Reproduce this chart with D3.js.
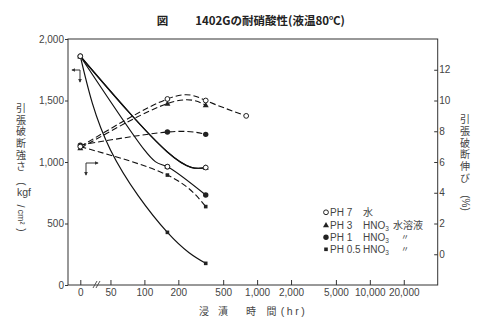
<!DOCTYPE html>
<html><head><meta charset="utf-8">
<script src="https://cdn.jsdelivr.net/npm/d3@7"></script>
<style>
body{margin:0;background:#fff}
svg{display:block}
text{font-family:"Liberation Sans",Arial,sans-serif;fill:#444}
.cjk{font-family:"Noto Sans CJK JP","Noto Sans CJK SC",sans-serif}
</style></head><body>
<svg id="c" width="500" height="334"></svg>
<script>
// ---- data ----
// measured points (markers)
const hours = [0, 160, 350];
const hoursPH7Elong = [0, 160, 350, 800];
const ph7Strength = [1860, 962, 955];
const ph3Strength = [1860, 962, 955];
const ph1Strength = [1860, 962, 732];
const ph05Strength = [1860, 428, 176];
const ph7Elong = [7.0, 10.1, 10.0, 9.0];
const ph3Elong = [6.9, 9.8, 9.7];
const ph1Elong = [7.1, 7.95, 7.8];
const ph05Elong = [7.0, 5.15, 3.1];
// strength curves as drawn in the figure
const ph7StrengthCurveH = [0, 160, 350];
const ph7StrengthCurve = [1860, 1081, 955];
const ph1StrengthCurveH = [0, 100, 160, 350];
const ph1StrengthCurve = [1860, 1098, 962, 732];
const ph05StrengthCurveH = [0, 50, 160, 350];
const ph05StrengthCurve = [1860, 1098, 428, 176];

const xTicks = [0, 50, 100, 200, 500, 1000, 2000, 5000, 10000, 20000];
const xTickLabels = ["0","50","100","200","500","1,000","2,000","5,000","10,000","20,000"];
const leftTicks = [0, 500, 1000, 1500, 2000];
const rightTicks = [0, 2, 4, 6, 8, 10, 12];
const legendLabels = [["PH 7","水",""],["PH 3","HNO","水溶液"],["PH 1","HNO","〃"],["PH 0.5","HNO","〃"]];

const svg = d3.select("#c");
const L = 68, R = 437.7, T = 39, B = 285;
const ZERO_AT = 27; // where the broken-axis "0" sits on the log scale
const xLog = d3.scaleLog().domain([21, 40000]).range([L, R]);
const x = h => xLog(h === 0 ? ZERO_AT : h);
const yL = d3.scaleLinear().domain([0, 2000]).range([B, T]);
const yR = d3.scaleLinear().domain([-2, 14]).range([B, T]);

// title
svg.append("text").attr("class","cjk").attr("x",162.5).attr("y",24.5).attr("text-anchor","middle")
  .style("font-size","11.5px").style("font-weight","bold").style("fill","#222").text("図");
svg.append("text").attr("class","cjk").attr("x",270).attr("y",24.5).attr("text-anchor","middle")
  .style("font-size","11.5px").style("font-weight","bold").style("fill","#222").text("1402Gの耐硝酸性(液温80℃)");

// frame
svg.append("rect").attr("x",L).attr("y",T).attr("width",R-L).attr("height",B-T)
  .attr("fill","none").attr("stroke","#333").attr("stroke-width",1);

// axes
const gx = svg.append("g").attr("transform",`translate(0,${B})`)
  .call(d3.axisBottom(xLog).tickValues(xTicks.map(h => h === 0 ? ZERO_AT : h))
    .tickFormat((d,i) => xTickLabels[i]).tickSizeInner(-5).tickSizeOuter(0).tickPadding(4));
gx.select(".domain").remove();
const gl = svg.append("g").attr("transform",`translate(${L},0)`)
  .call(d3.axisLeft(yL).tickValues(leftTicks).tickFormat(d3.format(",")).tickSizeInner(3).tickSizeOuter(0).tickPadding(1));
gl.select(".domain").remove();
const gr = svg.append("g").attr("transform",`translate(${R},0)`)
  .call(d3.axisRight(yR).tickValues(rightTicks).tickSizeInner(-3.5).tickSizeOuter(0).tickPadding(1.5));
gr.select(".domain").remove();
svg.selectAll(".tick line").attr("stroke","#333");
svg.selectAll(".tick text").style("font-size","10px").style("fill","#444");

// axis break mark
[[93,97],[96,100]].forEach(([a,b]) => svg.append("line").attr("x1",a).attr("y1",288).attr("x2",b).attr("y2",281)
  .attr("stroke","#444").attr("stroke-width",0.9));

// axis titles
const xt = ["浸","漬","時","間"], xtPos = [204,223,251,271.5];
xt.forEach((c,i) => svg.append("text").attr("class","cjk").attr("x",xtPos[i]).attr("y",315).attr("text-anchor","middle").style("font-size","10px").text(c));
svg.append("text").attr("x",294).attr("y",315).attr("text-anchor","middle").style("font-size","10.5px").style("letter-spacing","2.5px").text("(hr)");

function vert(t, cx, top, size, gap){
  svg.append("text").attr("class","cjk").attr("x",cx).attr("y",top)
    .attr("writing-mode","tb").style("writing-mode","vertical-rl")
    .style("font-size",size+"px").style("letter-spacing",gap+"px").text(t);
}
function rot(t, cx, cy, size){ svg.append("text").attr("transform",`translate(${cx},${cy}) rotate(90)`).attr("text-anchor","middle").attr("dy","0.35em").style("font-size",size+"px").text(t); }

vert("引張破断強さ", 21, 103.5, 10, 1.6);
rot("(",21,184,10);
svg.append("text").attr("x",24).attr("y",196).attr("text-anchor","middle").style("font-size","10.5px").text("kgf");
rot("/",21,206,11);
rot("cm²",21,217,9);
rot(")",21,230,10);

vert("引張破断伸び", 465, 114, 10, 1.9);
rot("(%)",465,203,10);

// direction indicators
svg.append("defs").append("marker").attr("id","ah").attr("viewBox","0 0 6 6").attr("refX",5).attr("refY",3)
  .attr("markerWidth",4).attr("markerHeight",4).attr("orient","auto")
  .append("path").attr("d","M0,0L6,3L0,6Z").attr("fill","#333");
svg.append("path").attr("d","M80,70H72").attr("stroke","#333").attr("fill","none").attr("marker-end","url(#ah)");
svg.append("path").attr("d","M80,70V82").attr("stroke","#333").attr("fill","none").attr("marker-end","url(#ah)");
svg.append("path").attr("d","M86,163H98").attr("stroke","#333").attr("fill","none").attr("marker-end","url(#ah)");
svg.append("path").attr("d","M86,163V175").attr("stroke","#333").attr("fill","none").attr("marker-end","url(#ah)");

// series
const series = [
  {name:"PH7", m:"open", sH:hours, s:ph7Strength, cH:ph7StrengthCurveH, c:ph7StrengthCurve, eH:hoursPH7Elong, e:ph7Elong},
  {name:"PH3", m:"tri", sH:hours, s:ph3Strength, cH:ph7StrengthCurveH, c:ph7StrengthCurve, eH:hours, e:ph3Elong},
  {name:"PH1", m:"dot", sH:hours, s:ph1Strength, cH:ph1StrengthCurveH, c:ph1StrengthCurve, eH:hours, e:ph1Elong},
  {name:"PH0.5", m:"sq", sH:hours, s:ph05Strength, cH:ph05StrengthCurveH, c:ph05StrengthCurve, eH:hours, e:ph05Elong}
];
const lineL = d3.line().x(d => x(d[0])).y(d => yL(d[1])).curve(d3.curveNatural);
const lineR = d3.line().x(d => x(d[0])).y(d => yR(d[1])).curve(d3.curveNatural);
const g = svg.append("g");
series.forEach(s => {
  g.append("path").attr("d", lineL(d3.zip(s.cH, s.c))).attr("fill","none").attr("stroke","#111").attr("stroke-width",1.2);
  g.append("path").attr("d", lineR(d3.zip(s.eH, s.e))).attr("fill","none").attr("stroke","#111").attr("stroke-width",1.1).attr("stroke-dasharray","6,3");
});
function marker(type, cx, cy){
  if (type === "open") g.append("circle").attr("cx",cx).attr("cy",cy).attr("r",2.4).attr("fill","#fff").attr("stroke","#222").attr("stroke-width",1);
  else if (type === "tri") g.append("path").attr("d",`M${cx},${cy-3}L${cx+3},${cy+2.2}L${cx-3},${cy+2.2}Z`).attr("fill","#222");
  else if (type === "dot") g.append("circle").attr("cx",cx).attr("cy",cy).attr("r",2.7).attr("fill","#222");
  else g.append("rect").attr("x",cx-1.8).attr("y",cy-1.8).attr("width",3.6).attr("height",3.6).attr("fill","#222");
}
// draw filled first, open last
["sq","dot","tri","open"].forEach(t => series.filter(s => s.m === t).forEach(s => {
  s.sH.forEach((h,i) => marker(s.m, x(h), yL(s.s[i])));
  s.eH.forEach((h,i) => marker(s.m, x(h), yR(s.e[i])));
}));

// legend
const rows = [212.3, 225, 237.3, 249.3];
const lm = ["open","tri","dot","sq"];
legendLabels.forEach((lab,i) => {
  marker(lm[i], 326, rows[i]);
  svg.append("text").attr("x",330).attr("y",rows[i]+3.6).style("font-size","10px").text(lab[0]);
  const t2 = svg.append("text").attr("class", i===0 ? "cjk" : null).attr("x",363).attr("y",rows[i]+3.6).style("font-size","10px");
  t2.text(lab[1]);
  if (i > 0) t2.append("tspan").attr("dy","2").style("font-size","6.5px").text("3");
  if (lab[2]) svg.append("text").attr("class","cjk").attr("x", i===1 ? 393 : 405).attr("y",rows[i]+ (i===1 ? 3.6 : 3))
    .attr("text-anchor", i===1 ? "start" : "middle").style("font-size", i===1 ? "10px" : "8px").text(lab[2]);
});
</script></body></html>
